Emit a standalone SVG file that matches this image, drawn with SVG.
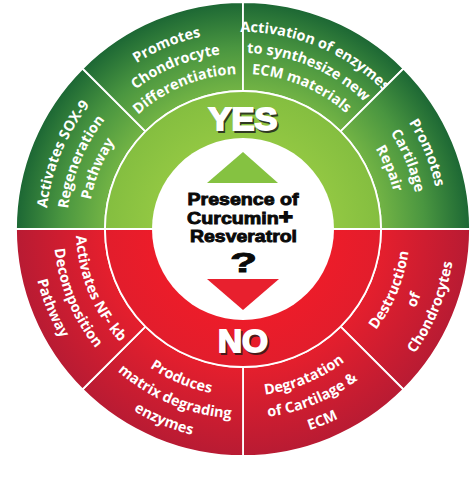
<svg xmlns="http://www.w3.org/2000/svg" width="470" height="481" viewBox="0 0 470 481">
<style>
.seg{stroke:#fff;stroke-width:1.8}
.lbl{font-family:"Open Sans","Liberation Sans",sans-serif;font-weight:700;font-size:14.5px;fill:#fff}
.ctr{font-family:"Liberation Sans",Arial,sans-serif;font-weight:700;fill:#0a0a0a;stroke:#0a0a0a;stroke-width:0.9}
.big{font-family:"Liberation Sans",Arial,sans-serif;font-weight:700;font-size:32px;stroke-width:1.8}
</style>
<defs>
<radialGradient id="gOut" gradientUnits="userSpaceOnUse" cx="243" cy="229" r="227">
<stop offset="0.6" stop-color="#74b545"/><stop offset="0.8" stop-color="#4a9640"/><stop offset="1" stop-color="#1c6734"/>
</radialGradient>
<radialGradient id="rOut" gradientUnits="userSpaceOnUse" cx="243" cy="229" r="227">
<stop offset="0.6" stop-color="#e61f2d"/><stop offset="1" stop-color="#b81b33"/>
</radialGradient>
<radialGradient id="gIn" gradientUnits="userSpaceOnUse" cx="243" cy="229" r="138">
<stop offset="0.6" stop-color="#94c943"/><stop offset="1" stop-color="#84be40"/>
</radialGradient>
<radialGradient id="rIn" gradientUnits="userSpaceOnUse" cx="243" cy="229" r="138">
<stop offset="0.6" stop-color="#ee1c29"/><stop offset="1" stop-color="#e21d2c"/>
</radialGradient>
<path id="u1" d="M 116.37,78.09 A 197 197 0 0 1 369.63,78.09"/>
<path id="u2" d="M 129.87,94.18 A 176 176 0 0 1 356.13,94.18"/>
<path id="u3" d="M 143.37,110.26 A 155 155 0 0 1 342.63,110.26"/>
<path id="d1" d="M 135.65,356.93 A 167 167 0 0 0 350.35,356.93"/>
<path id="d2" d="M 121.19,374.16 A 189.5 189.5 0 0 0 364.81,374.16"/>
<path id="d3" d="M 106.73,391.40 A 212 212 0 0 0 379.27,391.40"/>
</defs>

<g id="yes-sox9">
<path class="seg" fill="url(#gOut)" d="M 16,229 A 227 227 0 0 1 82.49,68.49 L 145.42,131.42 A 138 138 0 0 0 105,229 Z"/>
<text class="lbl" transform="rotate(-67.5 243 229)"><textPath href="#u1" startOffset="50%" text-anchor="middle">Activates SOX-9</textPath></text>
<text class="lbl" transform="rotate(-67.5 243 229)"><textPath href="#u2" startOffset="50%" text-anchor="middle">Regeneration</textPath></text>
<text class="lbl" transform="rotate(-67.5 243 229)"><textPath href="#u3" startOffset="50%" text-anchor="middle">Pathway</textPath></text>
</g>
<g id="yes-chondrocyte">
<path class="seg" fill="url(#gOut)" d="M 82.49,68.49 A 227 227 0 0 1 243,2 L 243,91 A 138 138 0 0 0 145.42,131.42 Z"/>
<text class="lbl" transform="rotate(-22.5 243 229)"><textPath href="#u1" startOffset="50%" text-anchor="middle">Promotes</textPath></text>
<text class="lbl" transform="rotate(-22.5 243 229)"><textPath href="#u2" startOffset="50%" text-anchor="middle">Chondrocyte</textPath></text>
<text class="lbl" transform="rotate(-22.5 243 229)"><textPath href="#u3" startOffset="50%" text-anchor="middle">Differentiation</textPath></text>
</g>
<g id="yes-enzymes">
<path class="seg" fill="url(#gOut)" d="M 243,2 A 227 227 0 0 1 403.51,68.49 L 340.58,131.42 A 138 138 0 0 0 243,91 Z"/>
<text class="lbl" transform="rotate(22.5 243 229)"><textPath href="#u1" startOffset="50%" text-anchor="middle">Activation of enzymes</textPath></text>
<text class="lbl" transform="rotate(22.5 243 229)"><textPath href="#u2" startOffset="50%" text-anchor="middle">to synthesize new</textPath></text>
<text class="lbl" transform="rotate(22.5 243 229)"><textPath href="#u3" startOffset="50%" text-anchor="middle">ECM materials</textPath></text>
</g>
<g id="yes-repair">
<path class="seg" fill="url(#gOut)" d="M 403.51,68.49 A 227 227 0 0 1 470,229 L 381,229 A 138 138 0 0 0 340.58,131.42 Z"/>
<text class="lbl" transform="rotate(67.5 243 229)"><textPath href="#u1" startOffset="50%" text-anchor="middle">Promotes</textPath></text>
<text class="lbl" transform="rotate(67.5 243 229)"><textPath href="#u2" startOffset="50%" text-anchor="middle">Cartilage</textPath></text>
<text class="lbl" transform="rotate(67.5 243 229)"><textPath href="#u3" startOffset="50%" text-anchor="middle">Repair</textPath></text>
</g>

<g id="no-destruction">
<path class="seg" fill="url(#rOut)" d="M 470,229 A 227 227 0 0 1 403.51,389.51 L 340.58,326.58 A 138 138 0 0 0 381,229 Z"/>
<text class="lbl" transform="rotate(-67.5 243 229)"><textPath href="#d1" startOffset="50%" text-anchor="middle">Destruction</textPath></text>
<text class="lbl" transform="rotate(-67.5 243 229)"><textPath href="#d2" startOffset="50%" text-anchor="middle">of</textPath></text>
<text class="lbl" transform="rotate(-67.5 243 229)"><textPath href="#d3" startOffset="50%" text-anchor="middle">Chondrocytes</textPath></text>
</g>
<g id="no-degradation">
<path class="seg" fill="url(#rOut)" d="M 403.51,389.51 A 227 227 0 0 1 243,456 L 243,367 A 138 138 0 0 0 340.58,326.58 Z"/>
<text class="lbl" transform="rotate(-22.5 243 229)"><textPath href="#d1" startOffset="50%" text-anchor="middle">Degratation</textPath></text>
<text class="lbl" transform="rotate(-22.5 243 229)"><textPath href="#d2" startOffset="50%" text-anchor="middle">of Cartilage &amp;</textPath></text>
<text class="lbl" transform="rotate(-22.5 243 229)"><textPath href="#d3" startOffset="50%" text-anchor="middle">ECM</textPath></text>
</g>
<g id="no-matrix">
<path class="seg" fill="url(#rOut)" d="M 243,456 A 227 227 0 0 1 82.49,389.51 L 145.42,326.58 A 138 138 0 0 0 243,367 Z"/>
<text class="lbl" transform="rotate(22.5 243 229)"><textPath href="#d1" startOffset="50%" text-anchor="middle">Produces</textPath></text>
<text class="lbl" transform="rotate(22.5 243 229)"><textPath href="#d2" startOffset="50%" text-anchor="middle">matrix degrading</textPath></text>
<text class="lbl" transform="rotate(22.5 243 229)"><textPath href="#d3" startOffset="50%" text-anchor="middle">enzymes</textPath></text>
</g>
<g id="no-nfkb">
<path class="seg" fill="url(#rOut)" d="M 82.49,389.51 A 227 227 0 0 1 16,229 L 105,229 A 138 138 0 0 0 145.42,326.58 Z"/>
<text class="lbl" transform="rotate(67.5 243 229)"><textPath href="#d1" startOffset="50%" text-anchor="middle">Activates NF- kb</textPath></text>
<text class="lbl" transform="rotate(67.5 243 229)"><textPath href="#d2" startOffset="50%" text-anchor="middle">Decomposition</textPath></text>
<text class="lbl" transform="rotate(67.5 243 229)"><textPath href="#d3" startOffset="50%" text-anchor="middle">Pathway</textPath></text>
</g>

<g id="yes-ring">
<path class="seg" fill="url(#gIn)" d="M 105,229 A 138 138 0 0 1 381,229 Z"/>
<text class="big" x="244.5" y="131.5" text-anchor="middle" textLength="69" lengthAdjust="spacingAndGlyphs" fill="#2f3a22" stroke="#2f3a22">YES</text>
<text class="big" x="243" y="130" text-anchor="middle" textLength="69" lengthAdjust="spacingAndGlyphs" fill="#fff" stroke="#fff">YES</text>
</g>
<g id="no-ring">
<path class="seg" fill="url(#rIn)" d="M 381,229 A 138 138 0 0 1 105,229 Z"/>
<text class="big" x="244.5" y="353.5" text-anchor="middle" textLength="50" lengthAdjust="spacingAndGlyphs" fill="#4a1a1a" stroke="#4a1a1a">NO</text>
<text class="big" x="243" y="352" text-anchor="middle" textLength="50" lengthAdjust="spacingAndGlyphs" fill="#fff" stroke="#fff">NO</text>
</g>

<g id="center">
<circle cx="243" cy="229" r="91" fill="#fff"/>
<polygon points="243,152 278,183 207,183" fill="#85c241"/>
<polygon points="207,279 279,279 243,310" fill="#e8202e"/>
<text class="ctr" x="243" y="205" font-size="17" text-anchor="middle" textLength="111" lengthAdjust="spacingAndGlyphs">Presence of</text>
<text class="ctr" x="240" y="223.5" font-size="17" text-anchor="middle" textLength="106" lengthAdjust="spacingAndGlyphs">Curcumin<tspan font-size="21" stroke-width="1.3">+</tspan></text>
<text class="ctr" x="243.5" y="242" font-size="17" text-anchor="middle" textLength="107" lengthAdjust="spacingAndGlyphs">Resveratrol</text>
<text class="ctr" x="243.5" y="272" font-size="28" text-anchor="middle" textLength="27" lengthAdjust="spacingAndGlyphs" stroke-width="2">?</text>
</g>
</svg>
